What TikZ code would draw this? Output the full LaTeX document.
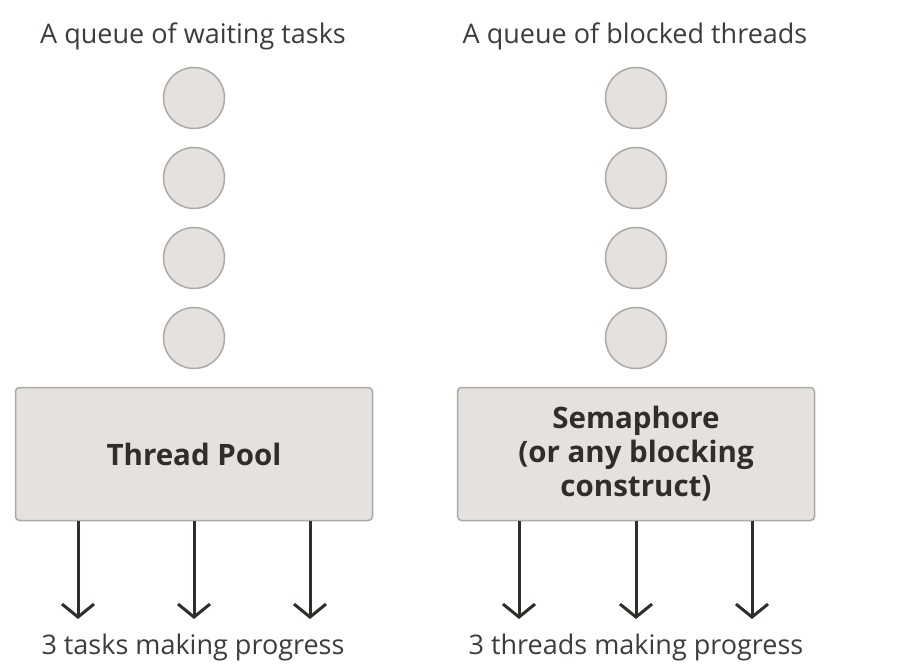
\documentclass[tikz,border=0pt]{standalone}
\usepackage{fontspec}
\setmainfont{Open Sans}
\usepackage{tikz}
\usetikzlibrary{positioning}
\usetikzlibrary{arrows.meta}
\definecolor{qfill}{HTML}{E4E1DE}
\definecolor{qline}{HTML}{ADA9A5}
\definecolor{ink}{HTML}{312D2A}
\definecolor{txt}{HTML}{3F3B38}
\tikzstyle{queuevertex}=[circle,fill=qfill,draw=qline,line width=1.5pt,minimum size=61pt,inner sep=0pt]
\tikzstyle{blockbox}=[rectangle,rounded corners=4pt,fill=qfill,draw=qline,line width=1.5pt,minimum width=357pt,minimum height=133pt,align=center,text=ink,font=\fontsize{29.5}{34}\selectfont\bfseries]
\tikzstyle{progedge} = [draw,line width=3pt,ink,-{Straight Barb[length=13pt,width=32pt,line width=3pt]}]
\tikzset{caption/.style={text=txt,font=\fontsize{27}{32}\selectfont,inner sep=0pt}}

\begin{document}
\begin{tikzpicture}[x=1pt,y=-1pt]
  \useasboundingbox (0,0) rectangle (898,666);

  \node[caption] (qtasks) at (193,36) {A queue of waiting tasks};
  \node[caption] (qthreads) at (635,36) {A queue of blocked threads};

  \foreach \y/\n in {98/1, 178/2, 258/3, 338/4}
  {
    \node[queuevertex] (L\n) at (194,\y) {};
    \node[queuevertex] (R\n) at (636,\y) {};
  }

  \node[blockbox] (pool) at (194,454) {Thread Pool};
  \node[blockbox] (sema) at (636,454) {Semaphore\\(or any blocking\\construct)};

  \foreach \x/\name in {78/pa1, 194/pa2, 310/pa3}
    \coordinate (\name) at (\x,619);
  \foreach \x/\name in {519/sa1, 636/sa2, 752/sa3}
    \coordinate (\name) at (\x,619);

  \foreach \dest in {pa1, pa2, pa3}
    \path[progedge] (pool.south -| \dest) -- (\dest);
  \foreach \dest in {sa1, sa2, sa3}
    \path[progedge] (sema.south -| \dest) -- (\dest);

  \node[caption] (ptasks) at (193,647) {3 tasks making progress};
  \node[caption] (pthreads) at (636,647) {3 threads making progress};
\end{tikzpicture}
\end{document}
